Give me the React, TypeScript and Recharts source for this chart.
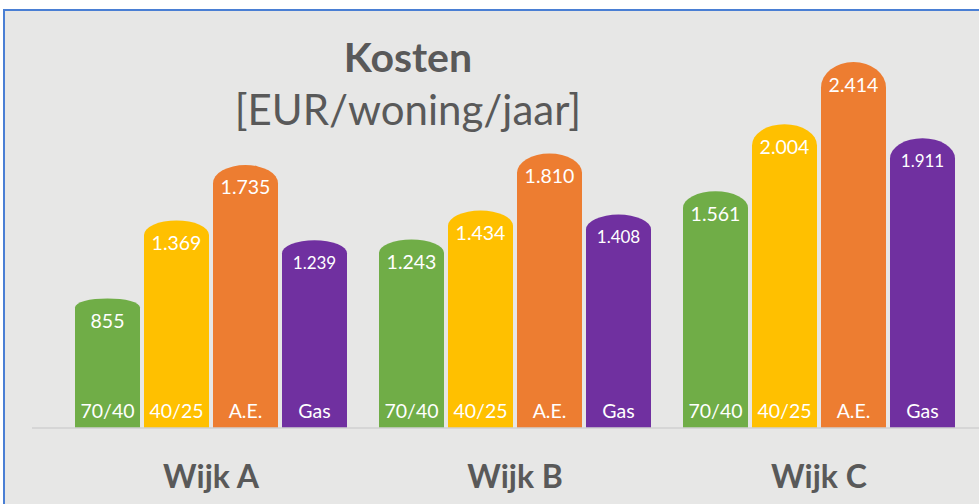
import { Bar, BarChart, LabelList, XAxis, YAxis } from "recharts";

const categories = ["Wijk A", "Wijk B", "Wijk C"];
const series = ["70/40", "40/25", "A.E.", "Gas"];
const values7040 = [855, 1243, 1561];
const values4025 = [1369, 1434, 2004];
const valuesAE = [1735, 1810, 2414];
const valuesGas = [1239, 1408, 1911];
const colors = ["#70ad47", "#ffc000", "#ed7d31", "#7030a0"];

const rows = categories.map((name, i) => ({
  name,
  s0: values7040[i],
  s1: values4025[i],
  s2: valuesAE[i],
  s3: valuesGas[i],
}));

const textColor = "#595959";
const font = "Lato, 'Open Sans', sans-serif";

// 1234 -> "1.234" (Dutch thousands separator)
function fmt(v: number): string {
  const s = String(Math.round(v));
  return s.length > 3 ? s.slice(0, -3) + "." + s.slice(-3) : s;
}

// bar with an elliptical top, flatter on short bars like the original
function RoundTop(props: any) {
  const { x, y, width, height, fill } = props;
  if (!height || height <= 0) return null;
  const ry = Math.min(height * 0.07, height);
  const d = `M${x},${y + height} L${x},${y + ry} A${width / 2},${ry} 0 0 1 ${x + width},${y + ry} L${x + width},${y + height} Z`;
  return <path d={d} fill={fill} />;
}

function valueLabel(small: boolean) {
  return (props: any) => {
    const { x, y, width, value } = props;
    return (
      <text
        x={x + width / 2}
        y={y + 22}
        textAnchor="middle"
        dominantBaseline="central"
        fill="#ffffff"
        fontFamily={font}
        fontSize={small ? 17 : 19.5}
      >
        {fmt(value)}
      </text>
    );
  };
}

function nameLabel(label: string) {
  return (props: any) => {
    const { x, y, width, height } = props;
    return (
      <text
        x={x + width / 2}
        y={y + height - 18}
        textAnchor="middle"
        dominantBaseline="central"
        fill="#ffffff"
        fontFamily={font}
        fontSize={19.5}
      >
        {label}
      </text>
    );
  };
}

function CategoryTick(props: any) {
  const { x, y, payload } = props;
  return (
    <text
      x={x}
      y={y + 45}
      textAnchor="middle"
      dominantBaseline="central"
      fill={textColor}
      fontFamily={font}
      fontWeight="bold"
      fontSize={32}
    >
      {payload.value}
    </text>
  );
}

export default function App() {
  return (
    <div style={{ position: "absolute", left: 0, top: 0, width: 979, height: 504, background: "#ffffff", overflow: "hidden" }}>
      <div
        style={{
          position: "absolute",
          left: 3,
          top: 9,
          width: 990,
          height: 510,
          background: "#e7e7e6",
          borderLeft: "2px solid #4a7fd4",
          borderTop: "2px solid #4a7fd4",
        }}
      />
      <div style={{ position: "absolute", left: 0, top: 0 }}>
        <BarChart
          width={979}
          height={504}
          data={rows}
          margin={{ top: 49, right: 0, bottom: 16, left: 32 }}
          barSize={65}
          barGap={4}
        >
          <XAxis
            dataKey="name"
            height={60}
            padding={{ left: 27, right: 8 }}
            axisLine={{ stroke: "#d0d0d0", strokeWidth: 1.5 }}
            tickLine={false}
            tickSize={0}
            tick={<CategoryTick />}
          />
          <YAxis hide domain={[0, 2500]} />
          {series.map((s, i) => (
            <Bar key={s} dataKey={`s${i}`} fill={colors[i]} shape={<RoundTop />} isAnimationActive={false}>
              <LabelList dataKey={`s${i}`} content={valueLabel(i === 3)} />
              <LabelList dataKey={`s${i}`} content={nameLabel(s)} />
            </Bar>
          ))}
        </BarChart>
      </div>
      <div
        style={{
          position: "absolute",
          left: 158,
          width: 500,
          top: 36,
          textAlign: "center",
          fontFamily: font,
          color: textColor,
          lineHeight: 1,
        }}
      >
        <div style={{ fontSize: 41, fontWeight: "bold" }}>Kosten</div>
        <div style={{ fontSize: 42, marginTop: 11 }}>[EUR/woning/jaar]</div>
      </div>
    </div>
  );
}
